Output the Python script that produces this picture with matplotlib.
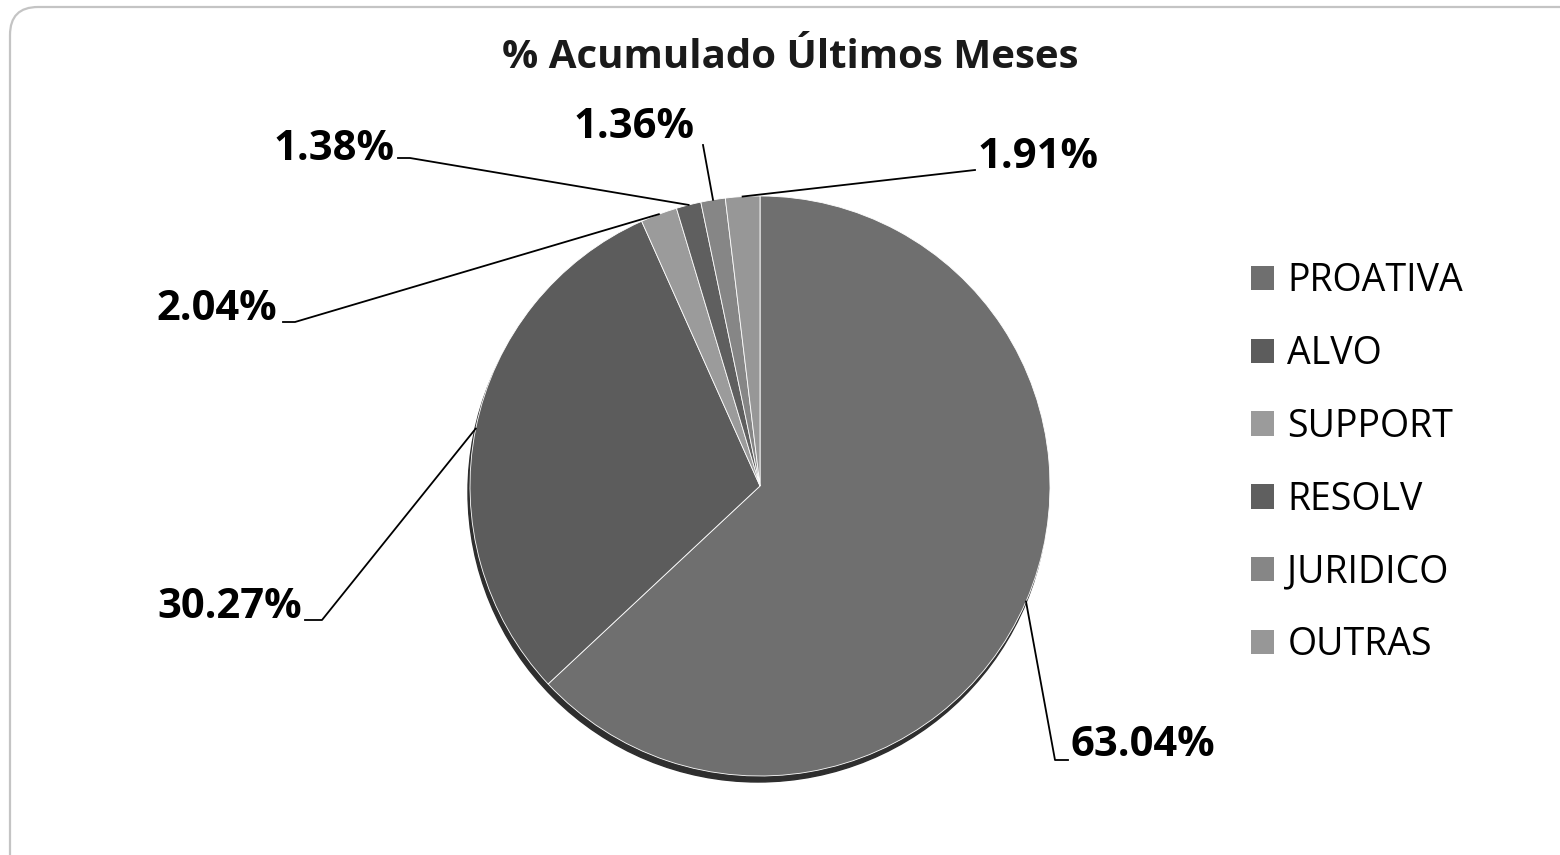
import numpy as np
import matplotlib
matplotlib.use("Agg")
import matplotlib.pyplot as plt
from matplotlib.patches import FancyBboxPatch, Circle

plt.rcParams['font.family'] = ['Open Sans', 'DejaVu Sans']

# data
categories = ["PROATIVA", "ALVO", "SUPPORT", "RESOLV", "JURIDICO", "OUTRAS"]
shares = [63.04, 30.27, 2.04, 1.38, 1.36, 1.91]
colors = ["#6f6f6f", "#5c5c5c", "#9b9b9b", "#5f5f5f", "#868686", "#979797"]
title = "% Acumulado Últimos Meses"

W, H = 1560, 855
def Y(y):
    # image-style y (from top) -> axes y
    return H - y

cx, cy, r = 760, Y(486), 290

# label layout: text anchor (x, y from top), elbow point, short tail
label_pos = [(1070, 745), (302, 607), (277, 310), (395, 150), (695, 127), (978, 158)]
elbows = [(1055, 760), (322, 620), (295, 322), (410, 158), (703, 145), (975, 170)]
tails = [(1068, 760), (305, 620), (283, 322), (398, 158), None, None]
aligns = ["left", "right", "right", "right", "right", "left"]

fig = plt.figure(figsize=(W / 100, H / 100), dpi=100)
fig.patch.set_facecolor("white")
ax = fig.add_axes([0, 0, 1, 1])

# rounded border, runs off the right and bottom edges
border = FancyBboxPatch((10, Y(H + 40)), W + 40, H + 33,
                        boxstyle="round,pad=0,rounding_size=28",
                        facecolor="white", edgecolor="#c4c4c4", lw=1.6, zorder=0)
ax.add_patch(border)

# 3D-ish bottom shadow
ax.add_patch(Circle((cx - 2, cy - 6), r, color="#2e2e2e", zorder=1))

wedges, _ = ax.pie(shares, colors=colors, startangle=90, counterclock=False,
                   center=(cx, cy), radius=r, explode=[0.012, 0, 0, 0, 0, 0],
                   wedgeprops=dict(edgecolor="white", linewidth=0.6))
for w in wedges:
    w.set_zorder(2)

ax.set_xlim(0, W)
ax.set_ylim(0, H)
ax.set_aspect("equal")
ax.axis("off")

for w, v, (tx, ty), (ex, ey), tail, ha in zip(wedges, shares, label_pos, elbows, tails, aligns):
    ang = np.deg2rad((w.theta1 + w.theta2) / 2)
    px = w.center[0] + r * np.cos(ang)
    py = w.center[1] + r * np.sin(ang)
    xs, ys = [px, ex], [py, Y(ey)]
    if tail is not None:
        xs.append(tail[0]); ys.append(Y(tail[1]))
    ax.plot(xs, ys, color="black", lw=1.3, zorder=3)
    ax.text(tx, Y(ty), f"{v:.2f}%", ha=ha, va="center", fontsize=30,
            fontweight="bold", color="black", zorder=4)

ax.text(790, Y(58), title, ha="center", va="center", fontsize=29,
        fontweight="bold", color="#1a1a1a")

leg = ax.legend(wedges, categories, loc="upper left",
                bbox_to_anchor=(1251 / W, 1 - 262 / H), bbox_transform=fig.transFigure,
                frameon=False, fontsize=27, handlelength=0.62, handleheight=0.62,
                handletextpad=0.35, labelspacing=0.93, borderpad=0, borderaxespad=0)
for h in leg.legend_handles:
    h.set_edgecolor("none")

fig.savefig("out.png", dpi=100)
